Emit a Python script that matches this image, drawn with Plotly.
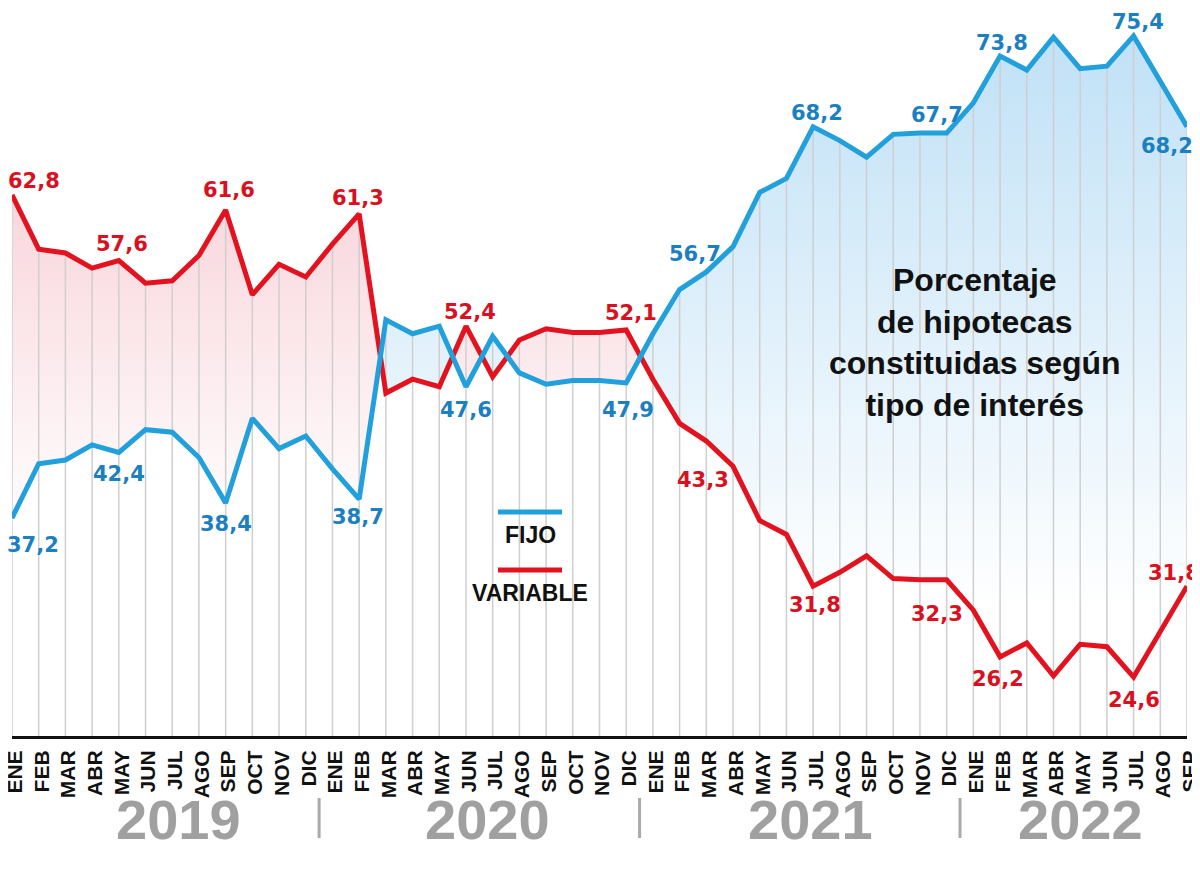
import plotly.graph_objects as go

# ---------------- data ----------------
months = ["ENE", "FEB", "MAR", "ABR", "MAY", "JUN", "JUL", "AGO", "SEP", "OCT", "NOV", "DIC",
          "ENE", "FEB", "MAR", "ABR", "MAY", "JUN", "JUL", "AGO", "SEP", "OCT", "NOV", "DIC",
          "ENE", "FEB", "MAR", "ABR", "MAY", "JUN", "JUL", "AGO", "SEP", "OCT", "NOV", "DIC",
          "ENE", "FEB", "MAR", "ABR", "MAY", "JUN", "JUL", "AGO", "SEP"]

fijo = [37.2, 41.5, 41.8, 43.0, 42.4, 44.2, 44.0, 42.0, 38.4, 45.1, 42.7, 43.7,
        41.1, 38.7, 52.9, 51.8, 52.4, 47.6, 51.6, 48.7, 47.8, 48.1, 48.1, 47.9,
        51.8, 55.3, 56.7, 58.7, 63.0, 64.1, 68.2, 67.1, 65.8, 67.6, 67.7, 67.7,
        70.1, 73.8, 72.7, 75.3, 72.8, 73.0, 75.4, 71.8, 68.2]

variable = [62.8, 58.5, 58.2, 57.0, 57.6, 55.8, 56.0, 58.0, 61.6, 54.9, 57.3, 56.3,
            58.9, 61.3, 47.1, 48.2, 47.6, 52.4, 48.4, 51.3, 52.2, 51.9, 51.9, 52.1,
            48.2, 44.7, 43.3, 41.3, 37.0, 35.9, 31.8, 32.9, 34.2, 32.4, 32.3, 32.3,
            29.9, 26.2, 27.3, 24.7, 27.2, 27.0, 24.6, 28.2, 31.8]

years = ["2019", "2020", "2021", "2022"]
year_centers = [6.25, 17.8, 29.9, 40.0]
year_breaks = [11.5, 23.5, 35.5]

# labelled points: (index, dx, dy)
fijo_labels = [(0, 21, -27), (4, 0, -22), (8, 0, -21), (13, -1, -18), (17, 0, -23),
               (23, 2, -27), (26, -11, 18), (30, 4, 14), (35, -10, 18), (37, 2, 13),
               (42, 4, 14), (44, -20, -19)]
var_labels = [(0, 22, 14), (4, 3, 17), (8, 3, 20), (13, -1, 16), (17, 4, 14),
              (23, 5, 17), (26, -3, -39), (30, 2, -19), (35, -10, -34), (37, -2, -22),
              (42, 0, -23), (44, -13, 13)]

title_text = "Porcentaje<br>de hipotecas<br>constituidas según<br>tipo de interés"

# ---------------- styling ----------------
BLUE = "#22a0dc"
BLUE_TXT = "#1c7fc0"
RED = "#e2121f"
RED_TXT = "#d81020"
GRID = "#cfcfcf"
OFF = 8                      # page body margin of the html page
YMIN, YMAX = 19.93, 77.61
FW, FH = 1200 - OFF, 872 - 2 * OFF
ML, MR, MT = 12 - OFF, 13, 0
MB = FH - (736 - OFF)
PW, PH = FW - ML - MR, FH - MT - MB

def fmt(v):
    return f"{v:.1f}".replace(".", ",")

def px_x(px):               # window pixel -> paper x
    return (px - OFF - ML) / PW

def px_y(py):               # window pixel -> paper y
    return (FH - MB - (py - OFF)) / PH

n = len(fijo)
xs_idx = list(range(n))

# dense arrays with crossing points inserted (derived from the data)
xs, fs, vs = [], [], []
for i in range(n):
    xs.append(i); fs.append(fijo[i]); vs.append(variable[i])
    if i < n - 1:
        d0 = fijo[i] - variable[i]
        d1 = fijo[i + 1] - variable[i + 1]
        if d0 * d1 < 0:
            t = d0 / (d0 - d1)
            yc = fijo[i] + t * (fijo[i + 1] - fijo[i])
            xs.append(i + t); fs.append(yc); vs.append(yc)
top = [max(a, b) for a, b in zip(fs, vs)]

fig = go.Figure()

# pink area (variable above fijo)
fig.add_trace(go.Scatter(x=xs, y=fs, mode="lines", line=dict(width=0),
                         hoverinfo="skip", showlegend=False))
fig.add_trace(go.Scatter(x=xs, y=top, mode="lines", line=dict(width=0),
                         fill="tonexty",
                         fillgradient=dict(type="vertical", start=36, stop=64,
                                           colorscale=[[0, "rgba(255,255,255,1)"],
                                                       [1, "rgba(248,212,218,1)"]]),
                         hoverinfo="skip", showlegend=False))
# blue area (fijo above variable)
fig.add_trace(go.Scatter(x=xs, y=vs, mode="lines", line=dict(width=0),
                         hoverinfo="skip", showlegend=False))
fig.add_trace(go.Scatter(x=xs, y=top, mode="lines", line=dict(width=0),
                         fill="tonexty",
                         fillgradient=dict(type="vertical", start=30, stop=77,
                                           colorscale=[[0, "rgba(255,255,255,1)"],
                                                       [1, "rgba(190,224,246,1)"]]),
                         hoverinfo="skip", showlegend=False))

# vertical drop lines from the upper series to the baseline
gx, gy = [], []
for i in xs_idx:
    gx += [i, i, None]
    gy += [YMIN, max(fijo[i], variable[i]), None]
fig.add_trace(go.Scatter(x=gx, y=gy, mode="lines", line=dict(color=GRID, width=1.5),
                         hoverinfo="skip", showlegend=False))

fig.add_trace(go.Scatter(x=xs_idx, y=variable, mode="lines", name="VARIABLE",
                         line=dict(color=RED, width=5), showlegend=False))
fig.add_trace(go.Scatter(x=xs_idx, y=fijo, mode="lines", name="FIJO",
                         line=dict(color=BLUE, width=5), showlegend=False))

LABEL_FONT = "DejaVu Sans"
annotations = []
for i, dx, dy in fijo_labels:
    annotations.append(dict(x=i, y=fijo[i], xref="x", yref="y", text=fmt(fijo[i]),
                            showarrow=False, xshift=dx, yshift=dy,
                            font=dict(family=LABEL_FONT, size=21, color=BLUE_TXT, weight="bold")))
for i, dx, dy in var_labels:
    annotations.append(dict(x=i, y=variable[i], xref="x", yref="y", text=fmt(variable[i]),
                            showarrow=False, xshift=dx, yshift=dy,
                            font=dict(family=LABEL_FONT, size=21, color=RED_TXT, weight="bold")))

# title inside chart
annotations.append(dict(x=px_x(975), y=px_y(342), xref="paper", yref="paper",
                        text=title_text, showarrow=False, align="center",
                        xanchor="center", yanchor="middle",
                        font=dict(family="Liberation Sans", size=32, color="#111111", weight="bold")))

# legend texts
annotations.append(dict(x=px_x(530), y=px_y(535), xref="paper", yref="paper", text="FIJO",
                        showarrow=False, xanchor="center", yanchor="middle",
                        font=dict(family="Liberation Sans", size=23, color="#111111", weight="bold")))
annotations.append(dict(x=px_x(530), y=px_y(593), xref="paper", yref="paper", text="VARIABLE",
                        showarrow=False, xanchor="center", yanchor="middle",
                        font=dict(family="Liberation Sans", size=23, color="#111111", weight="bold")))

# year labels
for yr, c in zip(years, year_centers):
    annotations.append(dict(x=c, y=px_y(819), xref="x", yref="paper", text=yr,
                            showarrow=False, xanchor="center", yanchor="middle",
                            font=dict(family="Liberation Sans", size=56, color="#a0a0a0", weight="bold")))

shapes = []
shapes.append(dict(type="line", xref="paper", yref="paper", x0=px_x(498), x1=px_x(562),
                   y0=px_y(512), y1=px_y(512), line=dict(color=BLUE, width=5)))
shapes.append(dict(type="line", xref="paper", yref="paper", x0=px_x(498), x1=px_x(562),
                   y0=px_y(570), y1=px_y(570), line=dict(color=RED, width=5)))
for b in year_breaks:
    shapes.append(dict(type="line", xref="x", yref="paper", x0=b, x1=b,
                       y0=px_y(798), y1=px_y(838), line=dict(color="#aaaaaa", width=3)))

fig.update_layout(
    width=FW, height=FH,
    margin=dict(l=ML, r=MR, t=MT, b=MB, pad=0, autoexpand=False),
    paper_bgcolor="white", plot_bgcolor="white",
    annotations=annotations, shapes=shapes,
    showlegend=False,
    xaxis=dict(range=[0, n - 1], tickmode="array", tickvals=xs_idx, ticktext=months,
               tickangle=-90, showgrid=False, zeroline=False, automargin=False,
               showline=True, linecolor="#111111", linewidth=3,
               ticks="", ticklabelshift=3, ticklabelstandoff=3,
               ticklabeloverflow="allow",
               tickfont=dict(family="Liberation Sans Narrow, Liberation Sans", size=21,
                             color="#111111", weight="bold")),
    yaxis=dict(range=[YMIN, YMAX], visible=False, showgrid=False, zeroline=False,
               automargin=False),
)

fig.write_html("out.html")
